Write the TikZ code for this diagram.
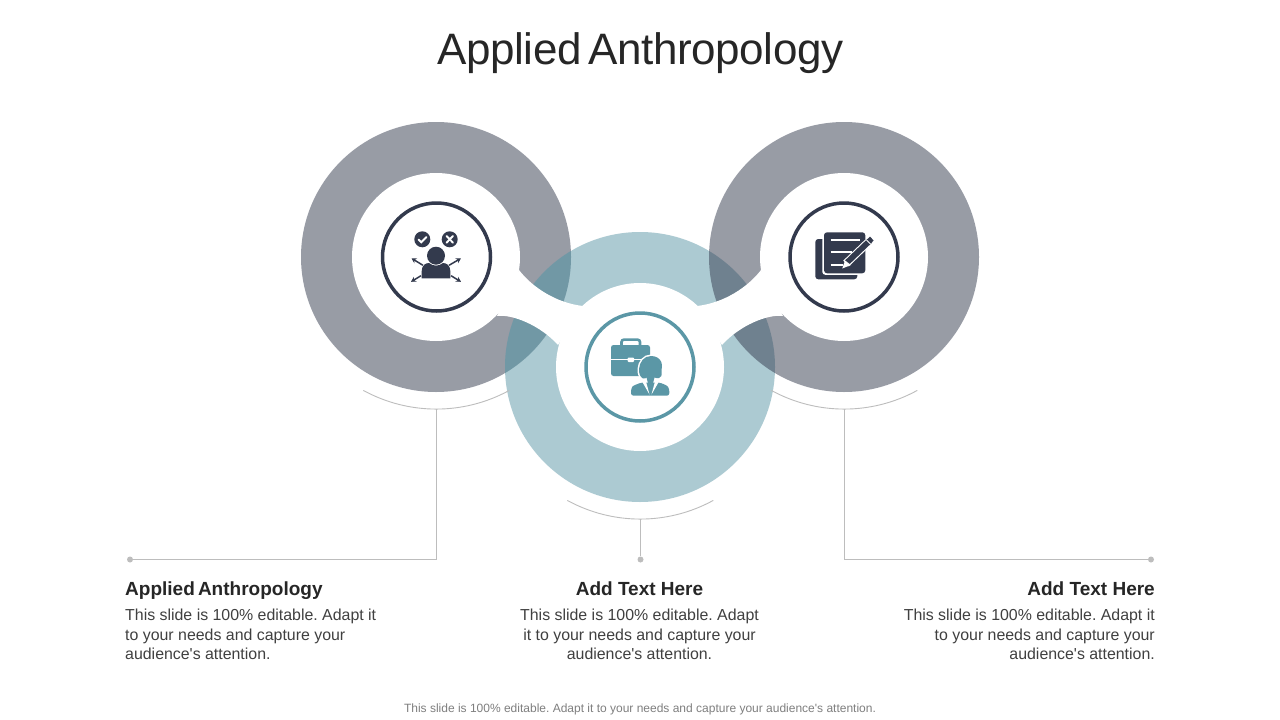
\documentclass[tikz,border=0pt]{standalone}
\usepackage{fontspec}
\setmainfont{Liberation Sans}[Ligatures=ResetAll]
\newfontfamily\titlefont{Liberation Sans}[LetterSpace=-1,WordSpace=0.6]
\newfontfamily\headfont{Liberation Sans}[WordSpace=0.6]
\usetikzlibrary{arrows.meta}
\definecolor{ink}{HTML}{333A4D}
\definecolor{teal}{HTML}{5B97A6}
\definecolor{rule}{HTML}{BDBDBD}
\definecolor{titlec}{HTML}{262626}
\definecolor{bodyc}{HTML}{404040}
\definecolor{footc}{HTML}{7F7F7F}
\tikzset{
  ringgray/.style={fill=ink,fill opacity=.5,even odd rule,draw=none},
  ringblue/.style={fill=teal,fill opacity=.5,even odd rule,draw=none},
  hole/.style={fill=white,draw=none},
  iconring/.style={draw=#1,line width=3.5pt,fill=none},
  thin rule/.style={draw=rule,line width=.9pt},
  dotnode/.style={circle,fill=rule,minimum size=6pt,inner sep=0pt,draw=none},
  headtext/.style={font=\headfont\fontsize{19}{22}\selectfont\bfseries,text=titlec,inner sep=0pt},
  headplain/.style={font=\fontsize{19}{22}\selectfont\bfseries,text=titlec,inner sep=0pt},
  bodytext/.style={font=\fontsize{15.9}{19.6}\selectfont\frenchspacing,text=bodyc,inner sep=0pt},
  whiteline/.style={draw=white,line width=1.9pt,line cap=round},
  arrowline/.style={draw=ink,line width=1.5pt,-{Stealth[length=5pt,width=5.5pt]}},
}
\begin{document}
\begin{tikzpicture}[x=1pt,y=-1pt]
\useasboundingbox (0,0) rectangle (1280,720);
\fill[white] (0,0) rectangle (1280,720);
% rings
\fill[ringgray] (436,257) circle[radius=135pt] (436,257) circle[radius=60pt];
\fill[ringblue] (640,367) circle[radius=135pt] (640,367) circle[radius=60pt];
\begin{scope}
  \clip (436,257) circle[radius=135pt];
  \fill[teal,fill opacity=.25] (640,367) circle[radius=135pt];
\end{scope}
\fill[ringgray] (844,257) circle[radius=135pt] (844,257) circle[radius=60pt];
% holes
\fill[hole] (436,257) circle[radius=84pt];
\fill[hole] (640,367) circle[radius=84pt];
\fill[hole] (844,257) circle[radius=84pt];
% necks
\fill[hole] (519,270) .. controls (532,287) and (556,303) .. (583,306) -- (558,345)
  .. controls (540,325) and (512,314) .. (497,316) -- cycle;
\fill[hole] (761,270) .. controls (748,287) and (724,303) .. (697,306) -- (722,345)
  .. controls (740,325) and (768,314) .. (783,316) -- cycle;
% icon rings
\draw[iconring=ink] (436.5,257) circle[radius=54pt];
\draw[iconring=teal] (640,367) circle[radius=54pt];
\draw[iconring=ink] (844,257) circle[radius=54pt];
% thin arcs and connectors
\draw[thin rule] (363.3,390.4) arc[start angle=241.3,end angle=298.7,radius=152pt];
\draw[thin rule] (567.3,500.4) arc[start angle=241.3,end angle=298.7,radius=152pt];
\draw[thin rule] (771.3,390.4) arc[start angle=241.3,end angle=298.7,radius=152pt];
\coordinate (arcL) at (436.5,409);
\coordinate (arcC) at (640.5,519);
\coordinate (arcR) at (844.5,409);
\node[dotnode] (dotL) at (130,559.5) {};
\node[dotnode] (dotC) at (640.5,559.5) {};
\node[dotnode] (dotR) at (1151,559.5) {};
\draw[thin rule] (arcL) |- (dotL);
\draw[thin rule] (arcC) -- (dotC);
\draw[thin rule] (arcR) |- (dotR);
% left icon
\fill[ink] (422.3,239.3) circle[radius=8pt];
\fill[ink] (449.7,239.3) circle[radius=8pt];
\draw[whiteline] (418.5,239.5) -- (421.3,242.3) -- (426.5,237);
\draw[whiteline] (446.5,236) -- (453,242.7) (453,236) -- (446.5,242.7);
\fill[ink] (436,255.7) circle[radius=9pt];
\fill[ink] (421.7,278.4) -- (421.7,271) .. controls (421.7,265) and (426,263) .. (429,263)
  .. controls (433,266.5) and (439,266.5) .. (443,263) .. controls (446,263) and (450.3,265) .. (450.3,271) -- (450.3,278.4) -- cycle;
\draw[arrowline] (423,265.3) -- (411.5,258.3);
\draw[arrowline] (449,265.3) -- (461,258.3);
\draw[arrowline] (421,275.7) -- (411,281.8);
\draw[arrowline] (451,275.7) -- (461,281.8);
% centre icon
\draw[teal,line width=2.6pt,rounded corners=2.5pt] (621.5,346) -- (621.5,339.6) -- (640,339.6) -- (640,346);
\fill[teal,rounded corners=2.5pt] (611,345) rectangle (650,376);
\draw[white,line width=1.5pt] (611,359.5) -- (650,359.5);
\fill[white,rounded corners=1pt] (627.5,357.5) rectangle (634,362);
% woman: white halo, shoulders, collar, hair and tie
\draw[white,line width=3pt,fill=white] (651,356) .. controls (644,356) and (639.5,362) .. (639,369)
  .. controls (638.7,373) and (640,377) .. (643,378.5) -- (650.5,394) -- (658,378)
  .. controls (661,377.5) and (662,375.5) .. (661.7,372) .. controls (661.5,368) and (662.5,364) .. (661,361.5)
  .. controls (659.5,358) and (655.5,356) .. (651,356) -- cycle;
\draw[white,line width=3pt,fill=white,rounded corners=3pt] (631,395.7) -- (631,388.5) -- (642,381.5) -- (659,381.5) -- (669.3,388.5) -- (669.3,395.7) -- cycle;
\fill[teal,rounded corners=2.5pt] (631,395.7) -- (631,389) .. controls (633,385.5) and (638,383.8) .. (642,382.5) -- (659,382.5) .. controls (663,383.8) and (667.3,385.5) .. (669.3,389) -- (669.3,395.7) -- cycle;
\fill[white] (641.5,380.5) -- (649.5,394.5) -- (646,381.5) -- cycle;
\fill[white] (659.5,380.5) -- (651.5,394.5) -- (655,381.5) -- cycle;
\fill[teal] (651,356) .. controls (644,356) and (639.5,362) .. (639,369)
  .. controls (638.7,373) and (640,377) .. (643,378.5) .. controls (645,379) and (646,378) .. (646.5,377.5) -- (650.5,393) -- (654.5,377.5) .. controls (656,378) and (658,378.5) .. (659,378)
  .. controls (661,377.5) and (662,375.5) .. (661.7,372) .. controls (661.5,368) and (662.5,364) .. (661,361.5)
  .. controls (659.5,358) and (655.5,356) .. (651,356) -- cycle;
% right icon
\fill[ink,rounded corners=3pt] (815.3,239) rectangle (857.3,279.3);
\fill[white,rounded corners=3pt] (822.3,230.8) rectangle (866.8,274.8);
\fill[ink,rounded corners=3pt] (824,232.3) rectangle (865.3,273.3);
\draw[white,line width=1.7pt] (830.7,240) -- (859.7,240) (830.7,252.3) -- (852,252.3) (830.7,265.3) -- (843,265.3);
\draw[white,line width=8pt] (846,263.5) -- (868,242.5);
\draw[ink,line width=5.8pt] (847,262.5) -- (869.5,241);
\fill[white] (842.3,268.5) -- (845,260.5) -- (851,265) -- cycle;
\fill[ink] (870,236.5) -- (873.5,240.5) -- (871,243.5) -- (867,239.5) -- cycle;
\draw[white,line width=.9pt] (866.5,240) -- (870.5,244);
% text
\node[font=\titlefont\fontsize{44}{50}\selectfont,text=titlec,inner sep=0pt,anchor=base] (title) at (640.5,64) {Applied Anthropology};
\node[headtext,anchor=base west] (h1) at (125,595) {Applied Anthropology};
\node[headplain,anchor=base] (h2) at (639.5,595) {Add Text Here};
\node[headplain,anchor=base east] (h3) at (1155,595) {Add Text Here};
\node[bodytext,anchor=north west,align=left] (b1) at (125,609) {This slide is 100\% editable. Adapt it\\to your needs and capture your\\audience\textquotesingle s attention.};
\node[bodytext,anchor=north,align=center] (b2) at (639.5,609) {This slide is 100\% editable. Adapt\\it to your needs and capture your\\audience\textquotesingle s attention.};
\node[bodytext,anchor=north east,align=right] (b3) at (1155,609) {This slide is 100\% editable. Adapt it\\to your needs and capture your\\audience\textquotesingle s attention.};
\node[font=\fontsize{12}{14}\selectfont\frenchspacing,text=footc,inner sep=0pt,anchor=base] (foot) at (640,712.6) {This slide is 100\% editable. Adapt it to your needs and capture your audience\textquotesingle s attention.};
\end{tikzpicture}
\end{document}
